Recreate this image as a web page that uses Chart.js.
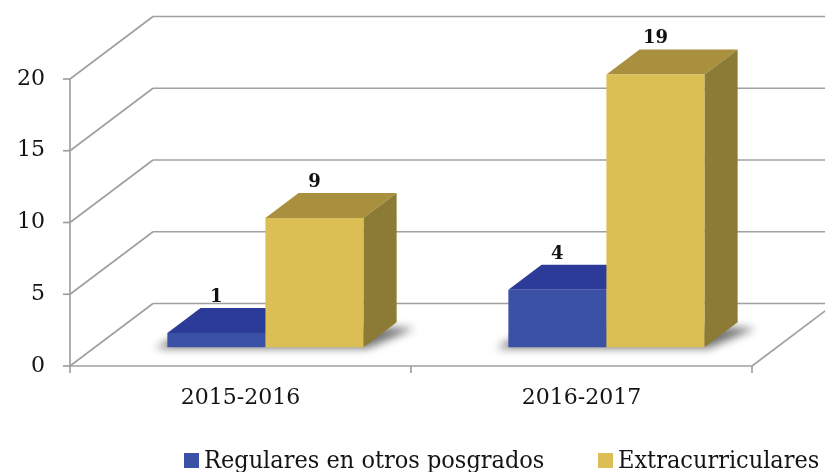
<!DOCTYPE html>
<html>
<head>
<meta charset="utf-8">
<script src="https://cdn.jsdelivr.net/npm/chart.js@4.4.1/dist/chart.umd.min.js"></script>
<style>
  html, body { margin: 0; padding: 0; background: #fff; }
  canvas { display: block; }
</style>
</head>
<body>
<canvas id="chart" width="825" height="472"></canvas>
<script>
const CATEGORIES = ["2015-2016", "2016-2017"];
const REGULARES = [1, 4];
const EXTRACURRICULARES = [9, 19];
const SERIES_LABELS = ["Regulares en otros posgrados", "Extracurriculares"];
const Y_TICKS = [0, 5, 10, 15, 20];

const FONT = '"DejaVu Serif", "Liberation Serif", serif';
const LEGEND_FONT = '"DejaVu Serif Condensed", "DejaVu Serif", serif';
const GRID_COLOR = "#a0a0a0";
const TEXT_COLOR = "#141414";

// front, top and side face of each series
const SERIES_COLORS = [
  { front: "#3a51a6", top: "#2c3b97", side: "#243180" },
  { front: "#dbbf55", top: "#a8903f", side: "#8c7b35" },
];

// oblique projection: full floor depth, and the slab the bars sit in
const DEPTH = { dx: 83, dy: -62.5 };
const BAR_FRONT = 0.3;
const BAR_BACK = 0.7;

function line(ctx, x1, y1, x2, y2) {
  ctx.beginPath();
  ctx.moveTo(x1, y1);
  ctx.lineTo(x2, y2);
  ctx.stroke();
}

function poly(ctx, pts, fill) {
  ctx.beginPath();
  pts.forEach(([px, py], i) => (i ? ctx.lineTo(px, py) : ctx.moveTo(px, py)));
  ctx.closePath();
  ctx.fillStyle = fill;
  ctx.fill();
}

function drawFrame(chart) {
  const { ctx, chartArea: a, scales } = chart;
  const x = scales.x;
  const y = scales.y;
  ctx.save();
  ctx.strokeStyle = GRID_COLOR;
  ctx.lineWidth = 1.7;

  Y_TICKS.forEach((v) => {
    const py = y.getPixelForValue(v);
    line(ctx, a.left, py, a.left + DEPTH.dx, py + DEPTH.dy);
    line(ctx, a.left + DEPTH.dx, py + DEPTH.dy, a.right + DEPTH.dx, py + DEPTH.dy);
    line(ctx, a.left - 7, py, a.left, py);
  });

  line(ctx, a.left, a.top, a.left, a.bottom);
  line(ctx, a.left, a.bottom, a.right, a.bottom);
  line(ctx, a.right, a.bottom, a.right + DEPTH.dx, a.bottom + DEPTH.dy);

  for (let i = 0; i <= CATEGORIES.length; i++) {
    const px = x.getPixelForValue(i - 0.5);
    line(ctx, px, a.bottom, px, a.bottom + 7);
  }
  ctx.restore();
}

function drawBars(chart) {
  const { ctx } = chart;
  const metas = chart.getSortedVisibleDatasetMetas();
  const fx = DEPTH.dx * BAR_FRONT;
  const fy = DEPTH.dy * BAR_FRONT;
  const tx = DEPTH.dx * (BAR_BACK - BAR_FRONT);
  const ty = DEPTH.dy * (BAR_BACK - BAR_FRONT);

  // soft floor shadow under each group
  CATEGORIES.forEach((_, i) => {
    const first = metas[0].data[i].getProps(["x", "base", "width"], true);
    const last = metas[metas.length - 1].data[i].getProps(["x", "base", "width"], true);
    const L = first.x - first.width / 2 + fx;
    const R = last.x + last.width / 2 + fx;
    const B = first.base + fy;
    ctx.save();
    ctx.filter = "blur(4px)";
    poly(ctx, [
      [L - 12, B + 1],
      [R + 4, B + 1],
      [R + tx + 18, B + ty + 6],
      [L + tx, B + ty],
    ], "rgba(0,0,0,0.55)");
    ctx.restore();
  });

  CATEGORIES.forEach((_, i) => {
    metas.forEach((meta, d) => {
      const el = meta.data[i].getProps(["x", "y", "base", "width"], true);
      const c = SERIES_COLORS[d];
      const L = el.x - el.width / 2 + fx;
      const R = el.x + el.width / 2 + fx;
      const T = el.y + fy;
      const B = el.base + fy;
      poly(ctx, [[L, T], [R, T], [R + tx, T + ty], [L + tx, T + ty]], c.top);
      poly(ctx, [[R, T], [R + tx, T + ty], [R + tx, B + ty], [R, B]], c.side);
      poly(ctx, [[L, T], [R, T], [R, B], [L, B]], c.front);
    });
  });

  ctx.save();
  ctx.font = `bold 18px ${FONT}`;
  ctx.fillStyle = "#111";
  ctx.textAlign = "center";
  ctx.textBaseline = "middle";
  metas.forEach((meta) => {
    meta.data.forEach((bar, i) => {
      const el = bar.getProps(["x", "y"], true);
      const value = chart.data.datasets[meta.index].data[i];
      ctx.fillText(String(value), el.x + fx, el.y + fy + ty - 11);
    });
  });
  ctx.restore();
}

function drawLegend(chart) {
  const { ctx } = chart;
  const items = [
    { x: 184, label: SERIES_LABELS[0], color: SERIES_COLORS[0].front },
    { x: 598, label: SERIES_LABELS[1], color: SERIES_COLORS[1].front },
  ];
  ctx.save();
  ctx.font = `25px ${LEGEND_FONT}`;
  ctx.textBaseline = "alphabetic";
  items.forEach((item) => {
    ctx.fillStyle = item.color;
    ctx.fillRect(item.x, 453, 15, 15);
    ctx.fillStyle = TEXT_COLOR;
    ctx.fillText(item.label, item.x + 20, 468);
  });
  ctx.restore();
}

const threeD = {
  id: "threeD",
  beforeDatasetsDraw(chart) {
    drawFrame(chart);
    drawBars(chart);
    return false;
  },
  afterDraw(chart) {
    drawLegend(chart);
  },
};

new Chart(document.getElementById("chart"), {
  type: "bar",
  data: {
    labels: CATEGORIES,
    datasets: [
      { label: SERIES_LABELS[0], data: REGULARES, backgroundColor: SERIES_COLORS[0].front },
      { label: SERIES_LABELS[1], data: EXTRACURRICULARES, backgroundColor: SERIES_COLORS[1].front },
    ],
  },
  options: {
    responsive: false,
    animation: false,
    devicePixelRatio: 1,
    layout: { padding: { top: 79, right: 73, left: 0, bottom: 0 } },
    datasets: { bar: { categoryPercentage: 0.575, barPercentage: 1 } },
    scales: {
      x: {
        grid: { display: false, drawTicks: false },
        border: { display: false },
        ticks: { font: { family: FONT, size: 22 }, color: TEXT_COLOR, padding: 19, maxRotation: 0 },
        afterFit: (scale) => { scale.height = 106; },
      },
      y: {
        min: 0,
        max: 20,
        grid: { display: false, drawTicks: false },
        border: { display: false },
        ticks: { stepSize: 5, font: { family: FONT, size: 22 }, color: TEXT_COLOR, padding: 25 },
        afterFit: (scale) => { scale.width = 70; },
      },
    },
    plugins: { legend: { display: false }, tooltip: { enabled: false } },
  },
  plugins: [threeD],
});
</script>
</body>
</html>
